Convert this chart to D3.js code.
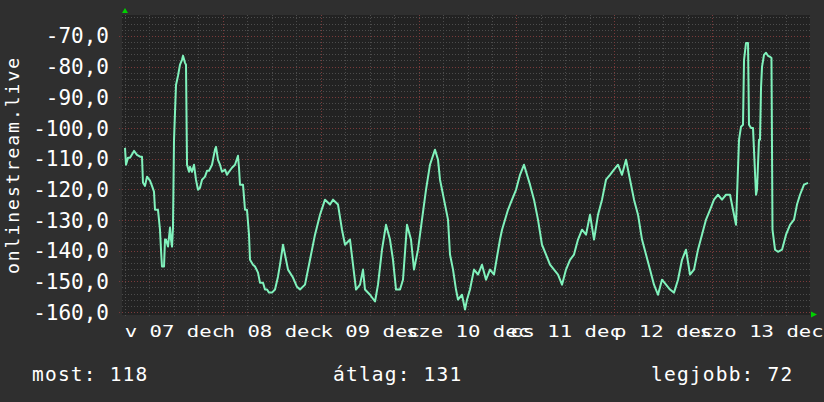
<!DOCTYPE html>
<html><head><meta charset="utf-8">
<script src="https://cdn.jsdelivr.net/npm/d3@7"></script>
<style>html,body{margin:0;padding:0;background:#2f2f2f;} svg{display:block}</style>
</head><body><svg id="c" width="824" height="402"></svg>
<script>
// ---- data ----
const startTime = new Date(2014, 11, 7, 0, 0);   // vasárnap, 07 dec
const spanHours = 168;
const hours = [
0,0.25,0.74,1.23,2.21,2.94,3.68,4.17,4.41,4.91,5.40,6.13,6.62,7.11,7.36,8.09,8.58,8.83,9.07,9.57,
9.81,10.06,10.55,11.04,11.28,11.53,11.77,12.02,12.26,12.51,13.00,13.49,13.98,14.23,14.72,14.96,15.21,15.70,15.94,16.43,
16.92,17.41,17.90,18.39,18.89,19.62,20.11,20.60,21.34,22.07,22.32,22.81,23.30,23.79,24.53,25.02,25.51,26.24,26.98,27.71,
27.96,28.20,28.94,29.43,29.92,30.41,30.66,31.39,31.88,32.62,33.11,33.85,34.34,34.83,35.32,36.05,36.79,37.52,38.02,
38.75,39.98,41.20,42.18,42.92,44.15,45.37,46.60,47.83,49.05,50.28,51.01,52.24,53.22,53.96,55.18,55.92,56.66,57.64,58.37,
58.86,60.09,61.32,62.05,63.03,64.01,64.99,65.73,66.47,67.45,68.18,69.16,70.14,70.88,71.86,72.84,73.82,74.80,76.03,76.77,
77.26,78.24,79.22,79.71,80.45,81.18,81.67,82.65,83.39,83.88,84.61,85.59,86.58,87.56,88.54,89.52,90.50,91.97,92.47,93.93,
94.92,95.90,96.88,97.86,98.59,99.33,100.31,101.29,102.27,103.26,104.24,105.22,106.20,107.18,108.16,109.14,110.12,111.10,112.09,113.07,
114.05,115.03,116.01,116.99,117.97,118.95,119.93,120.91,121.89,122.88,123.86,124.84,125.82,126.80,127.78,128.76,129.74,130.72,131.70,132.69,
133.67,134.65,135.63,136.61,137.59,138.57,139.55,140.53,141.51,142.50,143.48,144.46,145.44,146.42,147.40,148.38,149.12,149.85,150.59,151.08,
151.57,151.82,152.31,152.80,153.04,153.53,154.02,154.76,155.00,155.49,155.74,155.99,156.23,156.72,157.21,157.70,158.19,158.55,158.80,159.42,
160.15,161.14,162.12,163.10,164.08,164.81,165.55,166.53,167.51
];
const values = [
-106.5,-112.0,-109.7,-109.7,-107.5,-108.8,-109.4,-109.4,-117.9,-118.9,-115.9,-117.2,-118.9,-120.8,-126.7,-126.7,-133.2,-139.7,-145.2,-145.2,
-136.4,-136.4,-138.7,-132.5,-136.4,-138.7,-132.5,-103.9,-95.1,-86.0,-83.0,-79.4,-77.8,-76.5,-78.8,-79.4,-112.0,-114.3,-112.7,-114.3,
-112.0,-116.9,-120.2,-119.5,-116.9,-115.9,-114.0,-114.0,-112.0,-107.1,-106.2,-110.4,-112.0,-114.3,-113.6,-115.3,-114.3,-113.0,-112.0,-109.1,
-113.0,-118.5,-118.5,-126.7,-126.7,-134.8,-143.0,-144.6,-145.2,-147.2,-150.5,-150.5,-152.7,-152.7,-153.7,-153.7,-152.7,-148.5,-144.6,
-138.1,-146.2,-148.8,-151.8,-152.7,-151.1,-143.0,-134.8,-128.3,-123.4,-125.0,-123.4,-125.0,-133.2,-138.1,-136.4,-144.6,-152.7,-151.1,-146.2,
-152.7,-154.4,-156.6,-151.1,-139.7,-131.6,-136.4,-143.0,-152.7,-152.7,-149.5,-131.6,-136.4,-146.2,-139.7,-129.9,-120.2,-112.0,-107.1,-110.4,
-116.9,-123.4,-129.9,-141.3,-146.2,-152.7,-156.0,-154.4,-159.2,-156.0,-152.7,-146.2,-147.8,-144.6,-149.5,-146.2,-147.8,-136.4,-133.2,-126.7,
-123.4,-120.2,-115.3,-112.0,-115.3,-118.5,-123.4,-129.9,-138.1,-141.3,-144.6,-146.2,-147.8,-151.1,-146.2,-143.0,-141.3,-136.4,-133.2,-134.8,
-128.3,-136.4,-128.3,-123.4,-116.9,-115.3,-113.6,-112.0,-115.3,-110.4,-116.9,-123.4,-128.3,-136.4,-141.3,-146.2,-151.1,-154.4,-149.5,-151.1,
-152.7,-153.7,-149.5,-143.0,-139.7,-147.8,-146.2,-139.7,-134.8,-129.9,-126.7,-123.4,-121.8,-123.4,-121.8,-121.8,-126.7,-131.6,-103.9,-99.6,
-99.0,-77.8,-72.3,-72.3,-99.0,-100.0,-100.0,-121.8,-120.2,-103.9,-103.9,-86.9,-80.1,-76.2,-75.5,-76.5,-76.8,-77.2,-133.2,-139.7,
-140.4,-139.7,-134.8,-131.6,-129.9,-125.0,-121.8,-118.5,-117.9
];
const yTicks = [-70,-80,-90,-100,-110,-120,-130,-140,-150,-160];
const dayLabels = ["v 07 dec","h 08 dec","k 09 dec","sze 10 dec","cs 11 dec","p 12 dec","szo 13 dec"];
const yTitle = "onlinestream.live";
const summaryLabels = ["most: 118","átlag: 131","legjobb: 72"];

// ---- chart ----
const svg = d3.select("#c");
const W = 824, H = 402;
const hourMs = 3600e3;
const t = h => new Date(startTime.getTime() + h * hourMs);
const x = d3.scaleTime().domain([startTime, t(spanHours)]).range([125, 810]);
const y = d3.scaleLinear().domain([-161, -63.2]).range([315, 15]);
const mono = "'DejaVu Sans Mono', monospace";

svg.append("rect").attr("width", W).attr("height", H).attr("fill", "#2f2f2f");
svg.append("rect").attr("x", 122).attr("y", y.range()[1])
  .attr("width", 810 - 122).attr("height", y.range()[0] - y.range()[1]).attr("fill", "#222222");

// horizontal grid
const minorY = d3.range(-160, -63, 2).filter(v => v % 10 !== 0);
svg.append("g").selectAll("line").data(minorY).join("line")
  .attr("x1", 122).attr("x2", 810).attr("y1", d => Math.round(y(d)) + 0.5).attr("y2", d => Math.round(y(d)) + 0.5)
  .attr("stroke", "#4c4c4c").attr("stroke-dasharray", "1,2");
svg.append("g").selectAll("line").data(yTicks).join("line")
  .attr("x1", 119).attr("x2", 810).attr("y1", d => Math.round(y(d)) + 0.5).attr("y2", d => Math.round(y(d)) + 0.5)
  .attr("stroke", "#7a3a3a").attr("stroke-dasharray", "1,2");

// vertical grid
const gridHours = d3.range(0, spanHours, 6);
svg.append("g").selectAll("line").data(gridHours).join("line")
  .attr("x1", d => Math.round(x(t(d))) + 0.5).attr("x2", d => Math.round(x(t(d))) + 0.5)
  .attr("y1", y.range()[1]).attr("y2", 318)
  .attr("stroke", d => (d % 24 === 0 && d > 0) ? "#7a3a3a" : "#4c4c4c")
  .attr("stroke-dasharray", "1,2");

// axis arrows
const ax = x.range()[0], ay = 314.5;
svg.append("path").attr("d", `M${ax},${8}L${ax-3},${13}L${ax+3},${13}Z`).attr("fill", "#00d000");
svg.append("path").attr("d", `M${817},${ay}L${811},${ay-3}L${811},${ay+3}Z`).attr("fill", "#00d000");

// line
const data = hours.map((h, i) => ({ time: t(h), value: values[i] }));
svg.append("path").datum(data)
  .attr("d", d3.line().x(d => x(d.time)).y(d => y(d.value)))
  .attr("fill", "none").attr("stroke", "#80f2bc").attr("stroke-width", 2).attr("stroke-linejoin", "round");

// y axis labels
const loc = d3.formatLocale({ decimal: ",", thousands: " ", grouping: [3], currency: ["", ""], minus: "-" });
const fmt = loc.format(".1f");
const gy = svg.append("g").attr("transform", "translate(109,0)")
  .call(d3.axisLeft(y).tickValues(yTicks).tickFormat(fmt).tickSize(0).tickPadding(0));
gy.select(".domain").remove();
gy.selectAll("text").attr("font-family", mono).attr("font-size", 21).attr("fill", "#ffffff")
  .attr("dy", "0.34em");

// x axis labels (centred at noon)
const noons = dayLabels.map((_, i) => t(i * 24 + 12));
const gx = svg.append("g").attr("transform", "translate(0,337)")
  .call(d3.axisBottom(x).tickValues(noons).tickFormat((d, i) => dayLabels[i]).tickSize(0).tickPadding(0));
gx.select(".domain").remove();
gx.selectAll("text").attr("font-family", mono).attr("font-size", 16).attr("fill", "#ffffff")
  .attr("y", 0).attr("dy", 0).attr("transform", "scale(1.29,1)");

// y title
svg.append("text").text(yTitle)
  .attr("transform", "translate(18.5,165) rotate(-90)")
  .attr("text-anchor", "middle").attr("font-family", mono).attr("font-size", 18)
  .attr("letter-spacing", 2).attr("fill", "#ffffff");

// summary
const sumX = [32, 333, 651];
svg.append("g").selectAll("text").data(summaryLabels).join("text")
  .text(d => d).attr("x", (d, i) => sumX[i]).attr("y", 381)
  .attr("font-family", mono).attr("font-size", 19.5).attr("letter-spacing", 1.2).attr("fill", "#ffffff");
</script>
</body></html>
